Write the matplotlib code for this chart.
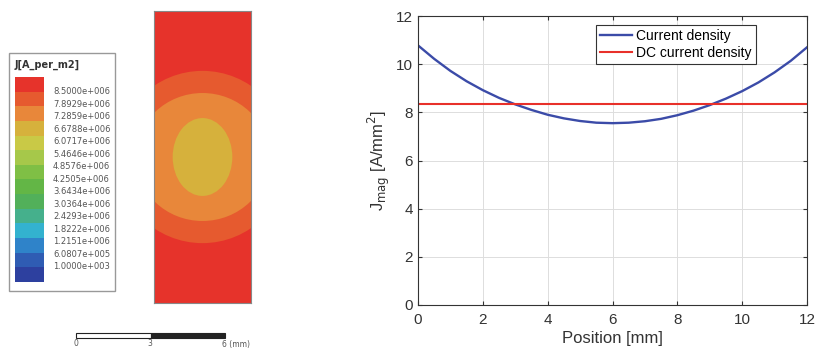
import numpy as np
import matplotlib
matplotlib.use('Agg')
import matplotlib.pyplot as plt
from matplotlib.colors import ListedColormap
from matplotlib.patches import Rectangle, Ellipse

# --- data ---
# colour legend of the field plot (top = highest)
legend_labels = ['8.5000e+006', '7.8929e+006', '7.2859e+006', '6.6788e+006',
                 '6.0717e+006', '5.4646e+006', '4.8576e+006', '4.2505e+006',
                 '3.6434e+006', '3.0364e+006', '2.4293e+006', '1.8222e+006',
                 '1.2151e+006', '6.0807e+005', '1.0000e+003']
band_colors = ['#e6332b', '#e65a2f', '#e8873a', '#d6b13c', '#c9c946', '#a6c84a',
               '#7fbf45', '#63b646', '#52b05a', '#45b08c', '#33b2cf', '#2f83c9',
               '#2f5cb3', '#2d409f']

# conductor cross section (mm) and contour rings, outer -> inner
cond_w, cond_h = 4.0, 12.0
ring_center = (2.0, 6.0)
ring_half_w = [3.55, 2.75, 1.23]
ring_half_h = [3.54, 2.63, 1.60]
ring_band = [1, 2, 3]          # index in band_colors

# current density along the conductor
pos = [0, 0.5, 1, 1.5, 2, 2.5, 3, 3.5, 4, 4.5, 5, 5.5, 6,
       6.5, 7, 7.5, 8, 8.5, 9, 9.5, 10, 10.5, 11, 11.5, 12]
j_ac = [10.78, 10.22, 9.72, 9.29, 8.92, 8.60, 8.33, 8.10, 7.90, 7.75, 7.64, 7.57, 7.55,
        7.57, 7.63, 7.73, 7.88, 8.07, 8.30, 8.57, 8.88, 9.24, 9.66, 10.14, 10.70]
dc_pos = [0, 12]
j_dc = [8.34, 8.34]

W, H = 816, 352


def box(x, y, w, h):
    return [x / W, 1 - (y + h) / H, w / W, h / H]


fig = plt.figure(figsize=(W / 100, H / 100), dpi=100)

# ---- left: colour legend ----
fig.add_artist(Rectangle((9 / W, 1 - 291 / H), 106 / W, 238 / H, transform=fig.transFigure,
                         fill=False, ec='#999999', lw=1))
fig.text(15 / W, 1 - 65 / H, 'J[A_per_m2]', fontsize=7, weight='bold', color='#333333', va='center')
ax_cb = fig.add_axes(box(15, 77, 28, 205))
n = len(band_colors)
ax_cb.imshow(np.arange(n).reshape(-1, 1), cmap=ListedColormap(band_colors), aspect='auto',
             vmin=-0.5, vmax=n - 0.5)
ax_cb.axis('off')
for i, lab in enumerate(legend_labels):
    y = 91.7 + i * 12.5
    fig.text(53 / W, 1 - y / H, lab, fontsize=6, color='#555555', va='center')

# ---- left: field plot ----
ax_f = fig.add_axes(box(154, 11, 97, 292))
ax_f.set_xlim(0, cond_w)
ax_f.set_ylim(0, cond_h)
ax_f.set_facecolor(band_colors[0])
for a, b, k in zip(ring_half_w, ring_half_h, ring_band):
    ax_f.add_patch(Ellipse(ring_center, 2 * a, 2 * b, fc=band_colors[k], ec='none'))
ax_f.set_xticks([])
ax_f.set_yticks([])
for s in ax_f.spines.values():
    s.set_color('#888888')
    s.set_linewidth(0.8)

# scale bar
ax_sb = fig.add_axes(box(76, 333, 149, 5))
ax_sb.set_xlim(0, 6)
ax_sb.set_ylim(0, 1)
ax_sb.add_patch(Rectangle((0, 0), 3, 1, fc='white', ec='#222222', lw=0.8, clip_on=False))
ax_sb.add_patch(Rectangle((3, 0), 3, 1, fc='#222222', ec='#222222', lw=0.8, clip_on=False))
ax_sb.axis('off')
fig.text(76 / W, 1 - 344 / H, '0', fontsize=5.5, color='#555555', ha='center', va='center')
fig.text(150 / W, 1 - 344 / H, '3', fontsize=5.5, color='#555555', ha='center', va='center')
fig.text(222 / W, 1 - 344 / H, '6 (mm)', fontsize=5.5, color='#555555', ha='left', va='center')

# ---- right: line plot ----
plt.rcParams['font.family'] = ['Liberation Sans', 'DejaVu Sans']
ax = fig.add_axes(box(418, 16, 389, 289))
ax.plot(pos, j_ac, color='#3b4ba8', lw=1.7, label='Current density')
ax.plot(dc_pos, j_dc, color='#e8302a', lw=1.5, label='DC current density')
ax.set_xlim(0, 12)
ax.set_ylim(0, 12)
ax.set_xticks(range(0, 13, 2))
ax.set_yticks(range(0, 13, 2))
ax.grid(True, color='#dddddd', lw=0.7)
ax.tick_params(direction='in', top=True, right=True, labelsize=11, colors='#333333', length=3)
ax.tick_params(axis='x', pad=6)
for s in ax.spines.values():
    s.set_color('#333333')
    s.set_linewidth(0.8)
ax.set_xlabel('Position [mm]', fontsize=12, color='#333333', labelpad=3)
ax.set_ylabel(r'J$_{\rm mag}$ [A/mm$^2$]', fontsize=12, color='#333333', labelpad=3)
leg = ax.legend(loc='upper right', bbox_to_anchor=(0.869, 0.969), fontsize=10,
                fancybox=False, edgecolor='#333333', framealpha=1, borderpad=0.3,
                labelspacing=0.2, handlelength=2.3, handletextpad=0.3, borderaxespad=0)
leg.get_frame().set_linewidth(0.8)

fig.savefig('out.png', dpi=100)
